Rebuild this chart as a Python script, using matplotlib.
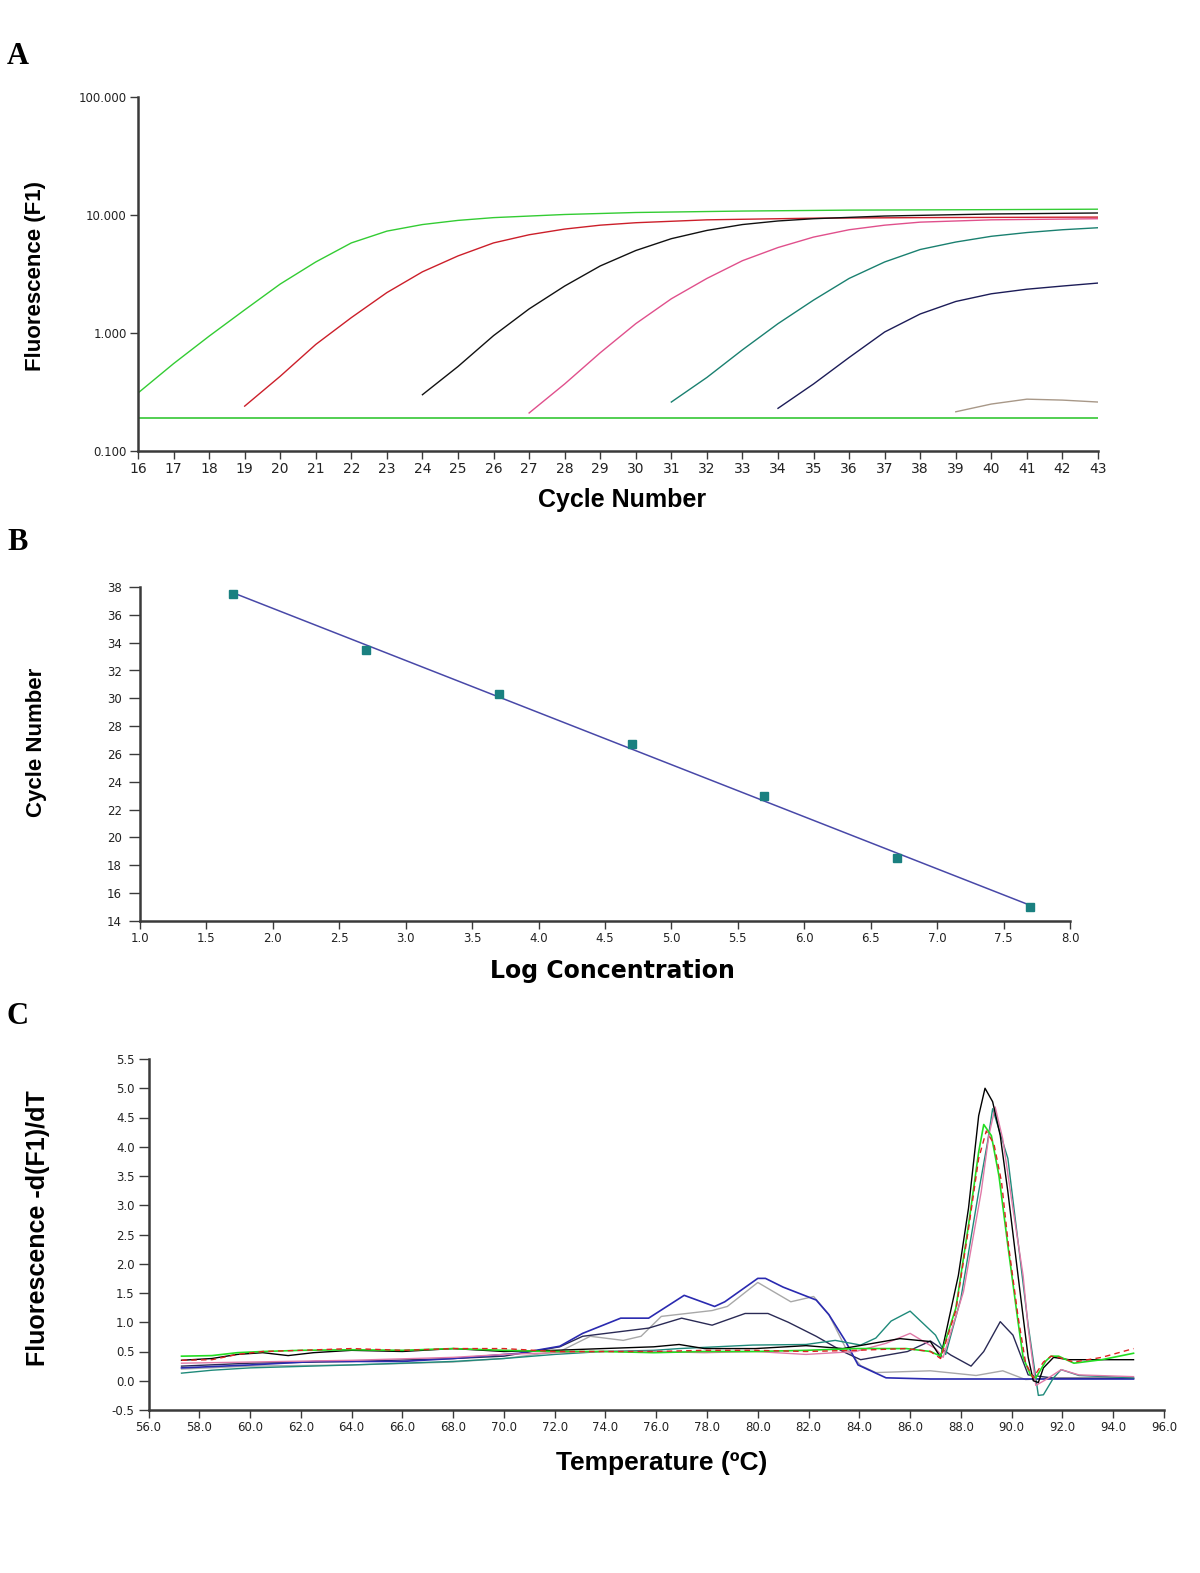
import numpy as np
import matplotlib
matplotlib.use("Agg")
import matplotlib.pyplot as plt
from matplotlib.ticker import FixedLocator, FormatStrFormatter, NullLocator

plt.rcParams['font.family'] = ['Liberation Sans', 'DejaVu Sans']

# ---- panel A: amplification curves (cycle, fluorescence) ----
cyc_green = [16, 17, 18, 19, 20, 21, 22, 23, 24, 25, 26, 28, 30, 33, 36, 40, 43]
f_green = [0.31, 0.55, 0.94, 1.57, 2.6, 4.0, 5.8, 7.3, 8.3, 9.0, 9.5, 10.1, 10.5, 10.8, 11.0, 11.1, 11.2]
cyc_red = [19, 20, 21, 22, 23, 24, 25, 26, 27, 28, 29, 30, 32, 35, 38, 43]
f_red = [0.24, 0.43, 0.8, 1.35, 2.2, 3.3, 4.5, 5.8, 6.8, 7.6, 8.2, 8.6, 9.1, 9.4, 9.5, 9.6]
cyc_black = [24, 25, 26, 27, 28, 29, 30, 31, 32, 33, 34, 35, 37, 40, 43]
f_black = [0.30, 0.52, 0.95, 1.6, 2.5, 3.7, 5.0, 6.3, 7.4, 8.3, 8.9, 9.3, 9.8, 10.2, 10.4]
cyc_pink = [27, 28, 29, 30, 31, 32, 33, 34, 35, 36, 37, 38, 40, 43]
f_pink = [0.21, 0.37, 0.68, 1.2, 1.95, 2.9, 4.1, 5.3, 6.5, 7.5, 8.2, 8.7, 9.1, 9.3]
cyc_teal = [31, 32, 33, 34, 35, 36, 37, 38, 39, 40, 41, 42, 43]
f_teal = [0.26, 0.42, 0.72, 1.2, 1.9, 2.9, 4.0, 5.1, 5.9, 6.6, 7.1, 7.5, 7.8]
cyc_navy = [34, 35, 36, 37, 38, 39, 40, 41, 42, 43]
f_navy = [0.23, 0.37, 0.62, 1.02, 1.45, 1.85, 2.15, 2.35, 2.5, 2.65]
cyc_gray = [39, 40, 41, 42, 43]
f_gray = [0.215, 0.25, 0.275, 0.27, 0.26]
threshold = 0.19

# ---- panel B: standard curve ----
log_conc = [1.7, 2.7, 3.7, 4.7, 5.7, 6.7, 7.7]
ct_vals = [37.5, 33.5, 30.3, 26.7, 23.0, 18.5, 15.0]

# ---- panel C: melt curves (temperature, -dF/dT) ----
t_green = [57.3, 58.5, 59.5, 60.5, 62, 64, 66, 68, 70, 72, 73.9, 75.9, 77.9, 79.9, 81.9, 83.85, 85.85, 86.8,
           87.2, 87.8, 88.3, 88.7, 88.9, 89.2, 89.5, 89.85, 90.25, 90.45, 90.75, 90.95, 91.35, 91.55, 91.85,
           92.45, 93.55, 94.8]
v_green = [0.42, 0.43, 0.48, 0.50, 0.52, 0.53, 0.52, 0.55, 0.52, 0.50, 0.50, 0.48, 0.50, 0.50, 0.52, 0.55, 0.55,
           0.50, 0.42, 1.24, 2.66, 3.91, 4.38, 4.19, 3.50, 2.31, 1.01, 0.40, 0.09, 0.05, 0.34, 0.42, 0.42, 0.30,
           0.36, 0.47]
t_red = [57.3, 58.5, 59.5, 60.5, 62, 64, 66, 68, 70, 72, 73.9, 75.9, 77.9, 79.9, 81.9, 83.85, 85.85, 86.8, 87.2,
         87.8, 88.3, 88.7, 89.0, 89.3, 89.6, 89.85, 90.25, 90.55, 90.85, 91.25, 91.55, 91.85, 92.45, 93.55, 94.8]
v_red = [0.35, 0.36, 0.45, 0.50, 0.52, 0.55, 0.52, 0.55, 0.55, 0.50, 0.50, 0.50, 0.52, 0.52, 0.50, 0.52, 0.55,
         0.50, 0.38, 1.2, 2.6, 3.8, 4.27, 4.05, 3.4, 2.4, 1.1, 0.3, 0.05, 0.32, 0.42, 0.40, 0.32, 0.40, 0.55]
t_black = [57.3, 58.5, 59.5, 60.5, 61.5, 62.5, 64, 66, 68, 70, 72, 73.9, 75.9, 76.9, 77.9, 79.9, 81.9, 83.35,
           85.6, 86.8, 87.2, 87.9, 88.3, 88.7, 88.95, 89.25, 89.55, 89.85, 90.25, 90.65, 90.85, 91.05, 91.25,
           91.65, 92.25, 94.8]
v_black = [0.35, 0.38, 0.45, 0.48, 0.43, 0.48, 0.52, 0.50, 0.55, 0.50, 0.52, 0.55, 0.58, 0.62, 0.55, 0.55, 0.60,
           0.55, 0.72, 0.67, 0.40, 1.8, 2.95, 4.53, 5.0, 4.77, 4.19, 3.23, 1.8, 0.4, 0.0, -0.03, 0.22, 0.40,
           0.36, 0.36]
t_pink = [57.3, 60, 64, 68, 70, 72, 73.9, 75.9, 77.9, 79.9, 81.9, 83.85, 85.05, 86.0, 87.0, 87.3, 88.1, 88.8,
          89.1, 89.35, 89.65, 90.05, 90.45, 90.65, 90.95, 91.35, 91.95, 92.65, 94.8]
v_pink = [0.30, 0.32, 0.35, 0.40, 0.45, 0.48, 0.50, 0.50, 0.48, 0.50, 0.45, 0.50, 0.64, 0.81, 0.55, 0.40, 1.52,
          3.23, 4.19, 4.68, 4.13, 2.94, 1.8, 0.9, -0.08, 0.02, 0.19, 0.10, 0.07]
t_teal = [57.3, 58.5, 60, 64, 68, 70, 72, 73.9, 75.9, 76.9, 79.8, 81.9, 83.05, 84.05, 84.65, 85.25, 86.0, 87.0,
          87.4, 88.0, 88.7, 89.05, 89.25, 89.85, 90.25, 90.65, 91.05, 91.25, 91.65, 91.95, 92.65, 94.8]
v_teal = [0.13, 0.18, 0.22, 0.27, 0.33, 0.38, 0.45, 0.50, 0.52, 0.55, 0.61, 0.62, 0.69, 0.61, 0.73, 1.02, 1.19,
          0.78, 0.45, 1.41, 3.23, 4.08, 4.65, 3.8, 2.38, 0.95, -0.25, -0.24, 0.05, 0.19, 0.09, 0.05]
t_navy = [57.3, 60, 62.6, 66, 68, 70.6, 72.2, 73.1, 74.6, 75.7, 77.1, 78.3, 78.7, 80.0, 80.3, 81.0, 82.3, 82.8,
          83.45, 83.95, 85.05, 86.8, 88.8, 90.75, 92.7, 94.8]
v_navy = [0.22, 0.27, 0.33, 0.33, 0.38, 0.47, 0.59, 0.81, 1.07, 1.07, 1.46, 1.27, 1.35, 1.75, 1.75, 1.6, 1.38,
          1.13, 0.68, 0.27, 0.05, 0.03, 0.03, 0.03, 0.03, 0.03]
t_gray = [57.3, 60, 64, 68, 70, 72.2, 73.4, 74.7, 75.4, 76.2, 78.2, 78.8, 80.0, 81.3, 82.2, 82.8, 83.45, 84.05,
          84.65, 86.8, 88.6, 89.65, 90.55, 91.75, 94.8]
v_gray = [0.20, 0.25, 0.27, 0.32, 0.38, 0.50, 0.76, 0.69, 0.76, 1.1, 1.2, 1.27, 1.68, 1.35, 1.44, 1.13, 0.57,
          0.26, 0.14, 0.17, 0.09, 0.17, 0.02, 0.05, 0.05]
t_slate = [57.3, 60, 64, 68, 70, 72.2, 73.1, 75.7, 77.0, 78.2, 79.5, 80.4, 81.2, 82.3, 83.35, 84.05, 85.9, 86.8,
           87.6, 88.4, 88.9, 89.55, 90.05, 90.65, 91.75, 94.8]
v_slate = [0.25, 0.30, 0.33, 0.38, 0.42, 0.58, 0.76, 0.90, 1.07, 0.95, 1.15, 1.15, 1.0, 0.76, 0.5, 0.36, 0.5,
           0.68, 0.44, 0.25, 0.5, 1.01, 0.78, 0.1, 0.04, 0.04]

W, H = 1200, 1573
fig = plt.figure(figsize=(W / 100, H / 100), dpi=100)


def px_axes(l, t, r, b):
    return fig.add_axes([l / W, 1 - b / H, (r - l) / W, (b - t) / H])


def style(ax, tick_size=8.5, ylen=6, ypad=2):
    for s in ['top', 'right']:
        ax.spines[s].set_visible(False)
    for s in ['left', 'bottom']:
        ax.spines[s].set_color('#3a3a3a')
        ax.spines[s].set_linewidth(1.8)
    ax.tick_params(direction='out', length=6, width=1, color='#3a3a3a', labelsize=tick_size,
                   labelcolor='#222222', pad=2)
    ax.tick_params(axis='y', length=ylen, pad=ypad)
    for lab in ax.get_xticklabels() + ax.get_yticklabels():
        lab.set_family('DejaVu Sans')


def ftext(x, y, s, **kw):
    fig.text(x / W, 1 - y / H, s, ha='center', va='center', **kw)


lw = 1.0

# panel A
axA = px_axes(138, 97, 1098, 451)
axA.set_yscale('log')
axA.plot(cyc_green, f_green, color='#33cc33', lw=lw)
axA.plot(cyc_red, f_red, color='#cc1f2a', lw=lw)
axA.plot(cyc_black, f_black, color='#111111', lw=lw)
axA.plot(cyc_pink, f_pink, color='#e0508c', lw=lw)
axA.plot(cyc_teal, f_teal, color='#1a8070', lw=lw)
axA.plot(cyc_navy, f_navy, color='#1c1c58', lw=lw)
axA.plot(cyc_gray, f_gray, color='#a89888', lw=lw)
axA.axhline(threshold, color='#44cc44', lw=1.3)
axA.set_xlim(16, 43)
axA.set_ylim(0.1, 100)
axA.xaxis.set_major_locator(FixedLocator(range(16, 44)))
axA.yaxis.set_major_locator(FixedLocator([0.1, 1, 10, 100]))
axA.yaxis.set_minor_locator(NullLocator())
axA.yaxis.set_major_formatter(FormatStrFormatter('%.3f'))
style(axA)
for lab in axA.get_xticklabels():
    lab.set_family('Liberation Sans Narrow')
    lab.set_fontsize(10)
ftext(622, 500, 'Cycle Number', fontsize=18, fontweight='bold')
ftext(36, 276, 'Fluorescence (F1)', fontsize=16, fontweight='bold', rotation=90)
ftext(18, 56, 'A', fontsize=22, fontweight='bold', family='Liberation Serif')

# panel B
axB = px_axes(140, 587, 1070, 921)
slope, icpt = np.polyfit(log_conc, ct_vals, 1)
xfit = np.array([min(log_conc), max(log_conc)])
axB.plot(xfit, slope * xfit + icpt, color='#4848a8', lw=1.1)
axB.plot(log_conc, ct_vals, 's', color='#1a8080', ms=5.5, mec='#1a8080')
axB.set_xlim(1, 8)
axB.set_ylim(14, 38)
axB.xaxis.set_major_locator(FixedLocator(np.arange(1, 8.01, 0.5)))
axB.yaxis.set_major_locator(FixedLocator(range(14, 39, 2)))
axB.xaxis.set_major_formatter(FormatStrFormatter('%.1f'))
style(axB, ylen=8, ypad=5)
ftext(612, 971, 'Log Concentration', fontsize=17, fontweight='bold', family='DejaVu Sans')
ftext(37, 742, 'Cycle Number', fontsize=16, fontweight='bold', rotation=90)
ftext(18, 542, 'B', fontsize=22, fontweight='bold', family='Liberation Serif')

# panel C
axC = px_axes(148.5, 1059, 1164, 1410)
axC.plot(t_gray, v_gray, color='#a8a8a8', lw=lw)
axC.plot(t_slate, v_slate, color='#2a2a55', lw=lw)
axC.plot(t_navy, v_navy, color='#2a2ab0', lw=1.2)
axC.plot(t_teal, v_teal, color='#1e8a7a', lw=lw)
axC.plot(t_pink, v_pink, color='#e07aa8', lw=lw)
axC.plot(t_black, v_black, color='#000000', lw=lw)
axC.plot(t_green, v_green, color='#22dd22', lw=1.2)
axC.plot(t_red, v_red, color='#dd2222', lw=lw, ls=(0, (4, 3)))
axC.set_xlim(56, 96)
axC.set_ylim(-0.5, 5.5)
axC.xaxis.set_major_locator(FixedLocator(np.arange(56, 96.1, 2)))
axC.yaxis.set_major_locator(FixedLocator(np.arange(-0.5, 5.51, 0.5)))
axC.xaxis.set_major_formatter(FormatStrFormatter('%.1f'))
axC.yaxis.set_major_formatter(FormatStrFormatter('%.1f'))
style(axC, ylen=7, ypad=3)
ftext(662, 1463, 'Temperature (ºC)', fontsize=19, fontweight='bold')
ftext(38, 1228, 'Fluorescence -d(F1)/dT', fontsize=18, fontweight='bold', rotation=90)
ftext(18, 1017, 'C', fontsize=22, fontweight='bold', family='Liberation Serif')

fig.savefig('out.png', dpi=100, facecolor='white')
